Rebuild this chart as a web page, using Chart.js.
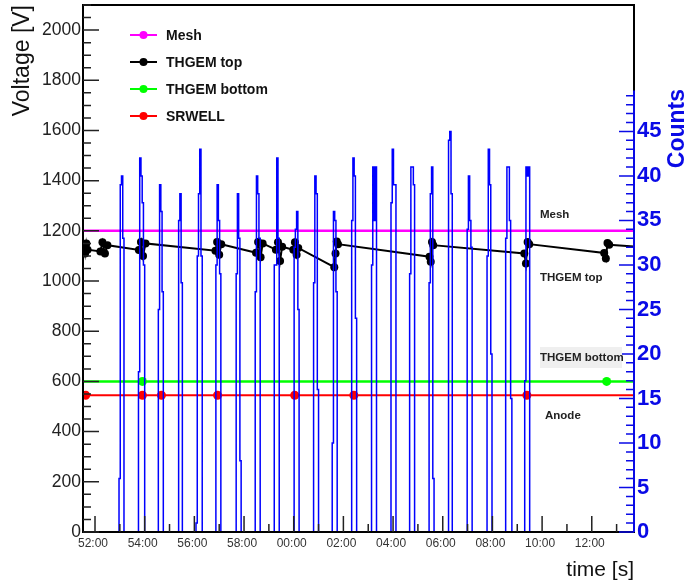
<!DOCTYPE html>
<html>
<head>
<meta charset="utf-8">
<script src="https://cdn.jsdelivr.net/npm/chart.js@4.4.0/dist/chart.umd.min.js"></script>
<style>
  html, body { margin: 0; padding: 0; background: #fff; }
  canvas { display: block; }
</style>
</head>
<body>
<canvas id="hvChart" width="688" height="585"></canvas>
<script>
// all times are seconds counted from 52:00
const meshTime = [-60, 1380];
const meshVolt = [1200, 1200];

const topTime = [-27, -24, -21, -18, 13, 18, 24, 30, 106, 111, 116, 122, 291, 295, 300, 305,
                 389, 394, 400, 405, 437, 442, 447, 452, 479, 483, 487, 491, 578, 581, 584, 587,
                 808, 811, 814, 817, 1037, 1041, 1045, 1049, 1230, 1234, 1238, 1242, 1320];
const topVolt = [1140, 1110, 1150, 1125, 1118, 1155, 1110, 1143, 1124, 1156, 1100, 1150, 1121, 1156, 1105, 1147,
                 1113, 1156, 1095, 1150, 1125, 1155, 1080, 1137, 1125, 1155, 1105, 1132, 1055, 1110, 1158, 1147,
                 1097, 1077, 1156, 1143, 1110, 1070, 1156, 1147, 1112, 1090, 1152, 1145, 1135];

const bottomTime = [-60, 114.5, 1236, 1380];
const bottomVolt = [600, 600, 600, 600];

const srwellTime = [-60, -22.5, 114.5, 160.5, 296, 482.4, 625.2, 1043.2, 1380];
const srwellVolt = [545, 545, 545, 545, 545, 545, 545, 545, 545];

// counts histogram: each burst starts at burstStart and has one count per bin
const binWidth = 3;
const burstStart = [58, 105, 153, 202, 244, 292, 341, 387, 433, 481, 528,
                    573, 620, 668, 715, 760, 807, 854, 899, 947, 992, 1038];
const burstCounts = [
  [6, 39, 40, 33],
  [18, 42, 40, 37, 30],
  [25, 39, 36, 27],
  [35, 38, 28],
  [1, 31, 38, 43, 31],
  [30, 39, 35, 29],
  [29, 38, 33, 8],
  [27, 40, 38, 33],
  [30, 30, 42, 33],
  [32, 34, 36, 25],
  [28, 40, 38, 16],
  [10, 36, 35, 27],
  [35, 42, 40, 24],
  [30, 41, 35, 41],
  [37, 43, 39, 39],
  [29, 41, 41, 39],
  [28, 38, 41, 6],
  [44, 45, 38],
  [34, 40, 35, 32],
  [31, 43, 39, 20],
  [33, 41, 41, 35, 15],
  [17, 41, 40, 41]
];

// x tick labels, one every 120 s starting at 52:00
const xTickLabels = ['52:00', '54:00', '56:00', '58:00', '00:00', '02:00', '04:00', '06:00', '08:00', '10:00', '12:00'];

function pairs(ts, vs) {
  return ts.map((t, i) => ({x: t, y: vs[i]}));
}

const histPoints = [{x: -60, y: 0}];
burstStart.forEach((t0, b) => {
  const c = burstCounts[b];
  c.forEach((v, i) => histPoints.push({x: t0 + i * binWidth, y: v}));
  histPoints.push({x: t0 + c.length * binWidth, y: 0});
});
histPoints.push({x: 1380, y: 0});

const BLUE = '#0a0ae6';
const FONT = 'Liberation Sans';

// keep chart area exactly where the frame is
function fixBox(size, dim) {
  return s => {
    s[dim] = size;
    s.paddingTop = 0;
    s.paddingBottom = 0;
    s.paddingLeft = 0;
    s.paddingRight = 0;
  };
}

const rootFrame = {
  id: 'rootFrame',
  afterDatasetsDraw(chart) {
    const {ctx, chartArea: a, scales: {x, y, y1}} = chart;
    ctx.save();

    // frame
    ctx.strokeStyle = '#000';
    ctx.lineWidth = 2;
    ctx.strokeRect(a.left, a.top, a.right - a.left, a.bottom - a.top);

    // inner ticks, left and bottom
    ctx.strokeStyle = '#222';
    ctx.lineWidth = 1.5;
    ctx.beginPath();
    for (let v = 0; v <= y.max; v += 50) {
      const p = y.getPixelForValue(v);
      const len = v % 200 === 0 ? 16 : 8;
      ctx.moveTo(a.left, p);
      ctx.lineTo(a.left + len, p);
    }
    for (let t = 0; t <= x.max; t += 60) {
      const p = x.getPixelForValue(t);
      const len = t % 120 === 0 ? 16 : 8;
      ctx.moveTo(p, a.bottom);
      ctx.lineTo(p, a.bottom - len);
    }
    ctx.stroke();

    // blue counts axis
    const topCount = 49.6;
    ctx.strokeStyle = BLUE;
    ctx.lineWidth = 2;
    ctx.beginPath();
    ctx.moveTo(a.right, y1.getPixelForValue(topCount));
    ctx.lineTo(a.right, a.bottom);
    ctx.stroke();
    ctx.lineWidth = 1.5;
    ctx.beginPath();
    for (let c = 0; c <= topCount; c += 1) {
      const p = y1.getPixelForValue(c);
      const len = c % 5 === 0 ? 15 : 8;
      ctx.moveTo(a.right, p);
      ctx.lineTo(a.right - len, p);
    }
    ctx.stroke();

    // "Counts" title, reading upwards
    ctx.save();
    ctx.translate(678, 89);
    ctx.rotate(-Math.PI / 2);
    ctx.fillStyle = BLUE;
    ctx.font = 'bold 23px ' + FONT;
    ctx.textAlign = 'right';
    ctx.textBaseline = 'middle';
    ctx.fillText('Counts', 0, 0);
    ctx.restore();

    // legend
    const entries = chart.data.datasets.filter(d => d.yAxisID === 'y');
    entries.forEach((d, i) => {
      const ly = 35 + i * 27;
      ctx.strokeStyle = d.borderColor;
      ctx.lineWidth = 2;
      ctx.beginPath();
      ctx.moveTo(130, ly);
      ctx.lineTo(157, ly);
      ctx.stroke();
      ctx.fillStyle = d.borderColor;
      ctx.beginPath();
      ctx.arc(143.5, ly, 4, 0, Math.PI * 2);
      ctx.fill();
      ctx.fillStyle = '#111';
      ctx.font = 'bold 14px ' + FONT;
      ctx.textAlign = 'left';
      ctx.textBaseline = 'middle';
      ctx.fillText(d.label, 166, ly + 1);
    });

    // labels beside the lines
    ctx.fillStyle = '#efefef';
    ctx.fillRect(540, 347, 82, 21);
    ctx.fillStyle = '#222';
    ctx.font = 'bold 11.5px ' + FONT;
    ctx.textAlign = 'left';
    ctx.textBaseline = 'middle';
    ctx.fillText('Mesh', 540, 215);
    ctx.fillText('THGEM top', 540, 278);
    ctx.fillText('THGEM bottom', 540, 358);
    ctx.fillText('Anode', 545, 416);

    ctx.restore();
  }
};

new Chart(document.getElementById('hvChart'), {
  type: 'line',
  data: {
    datasets: [
      {
        label: 'Counts',
        data: histPoints,
        yAxisID: 'y1',
        borderColor: '#0000ff',
        borderWidth: 1.5,
        stepped: true,
        pointRadius: 0
      },
      {
        label: 'Mesh',
        data: pairs(meshTime, meshVolt),
        yAxisID: 'y',
        borderColor: '#ff00ff',
        backgroundColor: '#ff00ff',
        borderWidth: 2.5,
        pointRadius: 4,
        pointBorderWidth: 0
      },
      {
        label: 'THGEM top',
        data: pairs(topTime, topVolt),
        yAxisID: 'y',
        borderColor: '#000000',
        backgroundColor: '#000000',
        borderWidth: 2,
        pointRadius: 4,
        pointBorderWidth: 0
      },
      {
        label: 'THGEM bottom',
        data: pairs(bottomTime, bottomVolt),
        yAxisID: 'y',
        borderColor: '#00ff00',
        backgroundColor: '#00ff00',
        borderWidth: 2.5,
        pointRadius: 4.5,
        pointBorderWidth: 0
      },
      {
        label: 'SRWELL',
        data: pairs(srwellTime, srwellVolt),
        yAxisID: 'y',
        borderColor: '#ff0000',
        backgroundColor: '#ff0000',
        borderWidth: 2,
        pointRadius: 4.5,
        pointBorderWidth: 0
      }
    ]
  },
  options: {
    responsive: false,
    animation: false,
    devicePixelRatio: 1,
    layout: { padding: { top: 5, left: 0, right: 0, bottom: 0 } },
    plugins: { legend: { display: false }, tooltip: { enabled: false } },
    scales: {
      x: {
        type: 'linear',
        min: -29,
        max: 1302,
        afterFit: fixBox(53, 'height'),
        afterBuildTicks: s => { s.ticks = xTickLabels.map((_, i) => ({value: i * 120})); },
        grid: { display: false, drawTicks: false },
        border: { display: false },
        ticks: {
          autoSkip: false,
          maxRotation: 0,
          padding: 4,
          labelOffset: -2,
          color: '#333',
          font: { family: FONT, size: 12 },
          callback: v => xTickLabels[Math.round(v / 120)]
        },
        title: {
          display: true,
          text: 'time [s]',
          align: 'end',
          color: '#111',
          font: { family: FONT, size: 21 },
          padding: { top: 0, bottom: 2 }
        }
      },
      y: {
        position: 'left',
        min: 0,
        max: 2100,
        afterFit: fixBox(83, 'width'),
        grid: { display: false, drawTicks: false },
        border: { display: false },
        ticks: {
          stepSize: 200,
          includeBounds: false,
          padding: 2,
          color: '#222',
          font: { family: FONT, size: 17.5 },
          callback: v => String(v)
        },
        title: {
          display: true,
          text: 'Voltage [V]',
          align: 'end',
          color: '#111',
          font: { family: FONT, size: 23 },
          padding: { top: 9, bottom: 0 }
        }
      },
      y1: {
        position: 'right',
        min: 0,
        max: 59.2,
        afterFit: fixBox(54, 'width'),
        grid: { display: false, drawTicks: false },
        border: { display: false },
        ticks: {
          stepSize: 5,
          includeBounds: false,
          padding: 3,
          color: BLUE,
          font: { family: FONT, size: 22, weight: 'bold' },
          callback: v => (v <= 45 ? String(v) : '')
        }
      }
    }
  },
  plugins: [rootFrame]
});
</script>
</body>
</html>
